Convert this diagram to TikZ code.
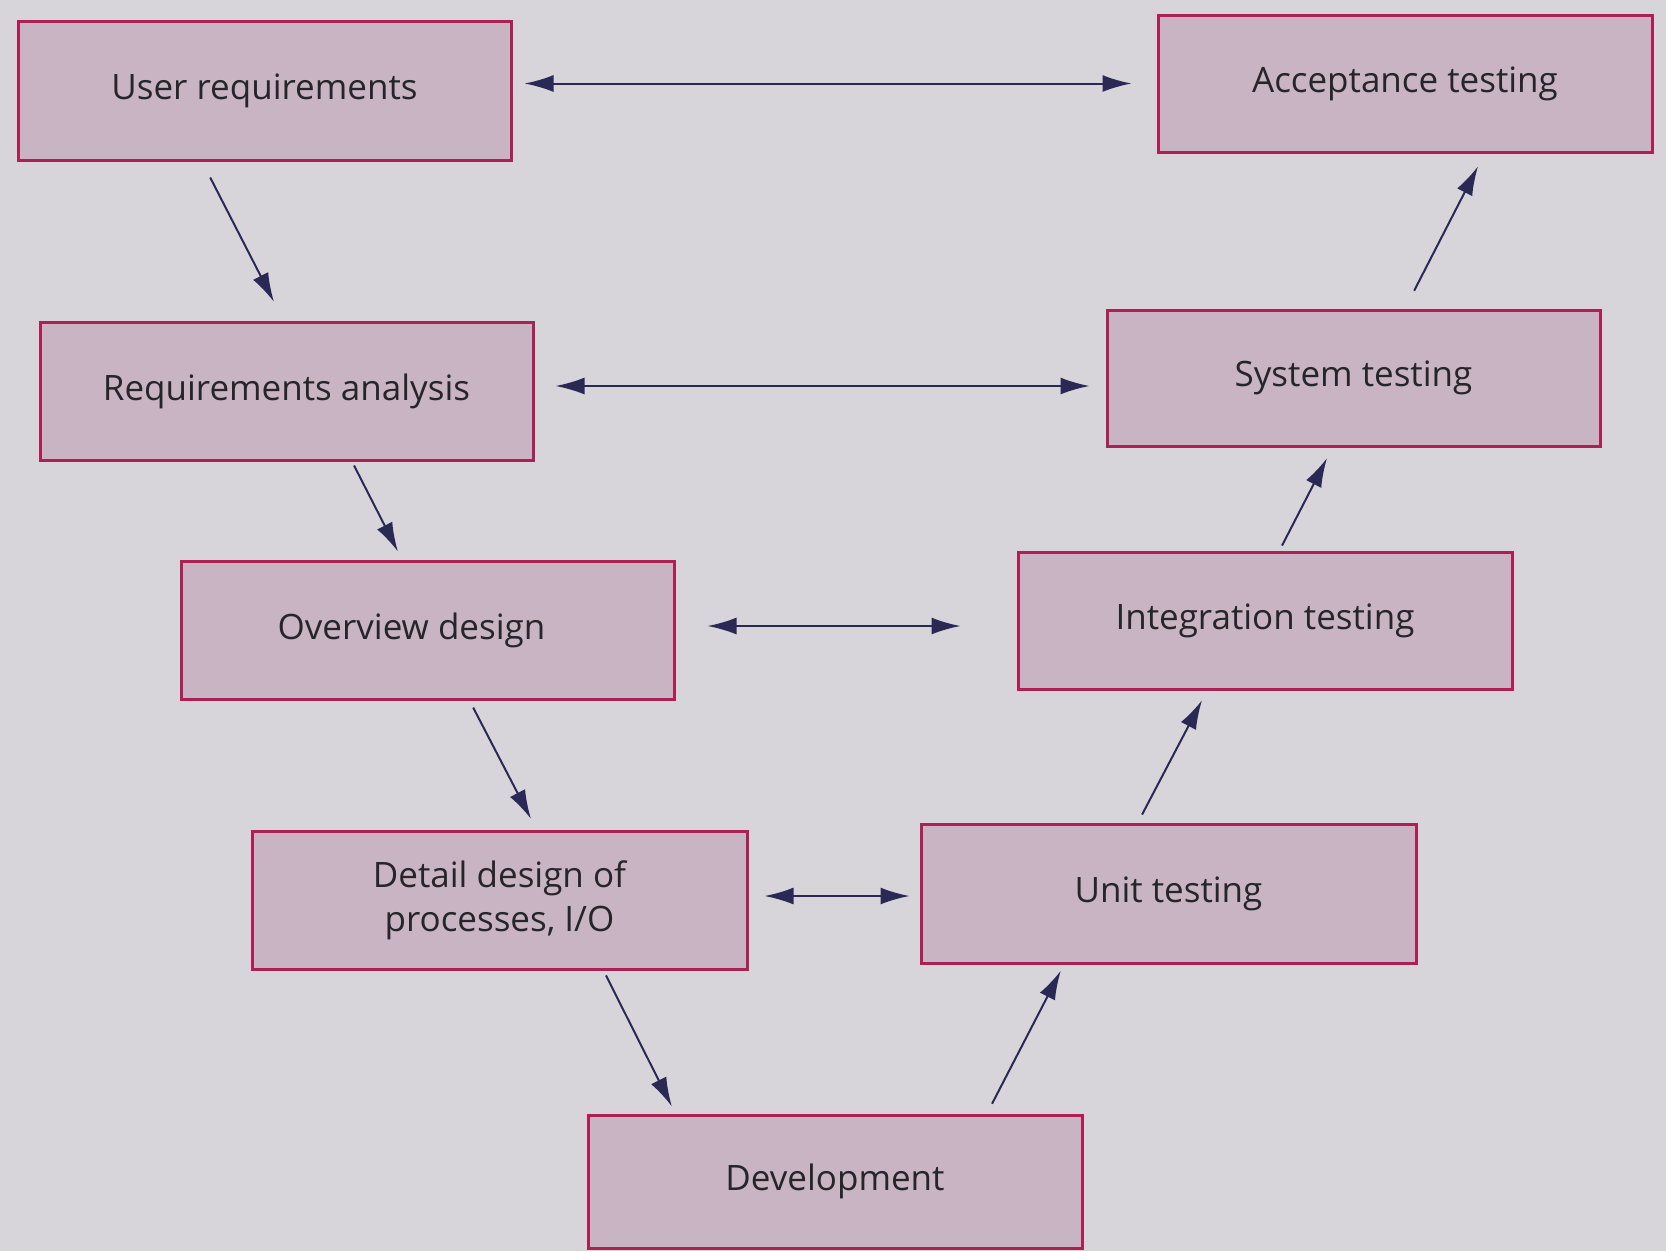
\documentclass[tikz,border=0pt]{standalone}
\usepackage{fontspec}
\setmainfont{Open Sans}
\usetikzlibrary{arrows.meta,calc}
\definecolor{pagebg}{HTML}{D7D5DA}
\definecolor{boxfill}{HTML}{C9B4C3}
\definecolor{boxline}{HTML}{AC2054}
\definecolor{arrowcol}{HTML}{2A2956}
\definecolor{textcol}{HTML}{26262A}
\begin{document}
\begin{tikzpicture}[x=1pt,y=-1pt,
  stagebox/.style={draw=boxline, fill=boxfill, line width=3pt, rectangle,
    minimum width=493pt, minimum height=137pt, inner sep=0pt,
    text=textcol, font=\fontsize{35}{44}\selectfont, align=center},
  link/.style={draw=arrowcol, line width=2pt,
    -{Latex[length=29pt,width=17pt]}},
  twoway/.style={draw=arrowcol, line width=2pt,
    {Latex[length=29pt,width=17pt]}-{Latex[length=29pt,width=17pt]}}]
  % page
  \fill[pagebg] (0,0) rectangle (1666,1251);
  \useasboundingbox (0,0) rectangle (1666,1251);

  % left leg of the V
  \node[stagebox, minimum height=139pt] (UR) at (264.5,90.5) {User requirements};
  \node[stagebox, minimum height=138pt] (RA) at (286.5,391) {Requirements analysis};
  \node[stagebox, minimum height=138pt] (OD) at (427.5,630) {\hspace*{-32pt}Overview design};
  \node[stagebox, minimum height=138pt, minimum width=495pt] (DD) at (499.5,900) {Detail design of\\processes, I/O};
  % base of the V
  \node[stagebox, minimum height=133pt, minimum width=494pt] (DV) at (835,1181.5) {Development};
  % right leg of the V
  \node[stagebox, minimum width=495pt, minimum height=139pt] (UT) at (1168.5,893.5) {Unit testing};
  \node[stagebox, minimum width=494pt] (IT) at (1265,620.5) {Integration testing};
  \node[stagebox, minimum height=136pt] (ST) at (1353.5,378) {System testing};
  \node[stagebox, minimum width=494pt] (AT) at (1405,83.5) {Acceptance testing};

  % verification links between the legs
  \draw[twoway, shorten <=12pt, shorten >=25pt] (UR.east |- AT.west) -- (AT.west);
  \draw[twoway, shorten <=21pt, shorten >=16pt] ([yshift=5pt]RA.east) -- ([yshift=5pt]RA.east -| ST.west);
  \draw[twoway, shorten <=32pt, shorten >=56pt] ([yshift=4pt]OD.east) -- ([yshift=4pt]OD.east -| IT.west);
  \draw[twoway, shorten <=16pt, shorten >=10pt] ([yshift=4pt]DD.east) -- ([yshift=4pt]DD.east -| UT.west);

  % down the left leg
  \draw[link, shorten <=18pt, shorten >=21pt] ([xshift=-62.5pt]UR.south) -- ([xshift=-3pt]RA.north);
  \draw[link, shorten <=4.5pt, shorten >=9pt] ([xshift=65.5pt]RA.south) -- ([xshift=-25.5pt]OD.north);
  \draw[link, shorten <=8pt, shorten >=12pt] ([xshift=42pt]OD.south) -- ([xshift=37pt]DD.north);
  \draw[link, shorten <=5.5pt, shorten >=8pt] ([xshift=104pt]DD.south) -- ([xshift=-159.6pt]DV.north);

  % up the right leg
  \draw[link, shorten <=11pt, shorten >=7pt] ([xshift=152pt]DV.north) -- ([xshift=-104.5pt]UT.south);
  \draw[link, shorten <=9pt, shorten >=11pt] ([xshift=-30.6pt]UT.north) -- ([xshift=-57.9pt]IT.south);
  \draw[link, shorten <=5.5pt, shorten >=12pt] ([xshift=14.5pt]IT.north) -- ([xshift=-21pt]ST.south);
  \draw[link, shorten <=20pt, shorten >=14.5pt] ([xshift=51.5pt]ST.north) -- ([xshift=79.6pt]AT.south);
\end{tikzpicture}
\end{document}
